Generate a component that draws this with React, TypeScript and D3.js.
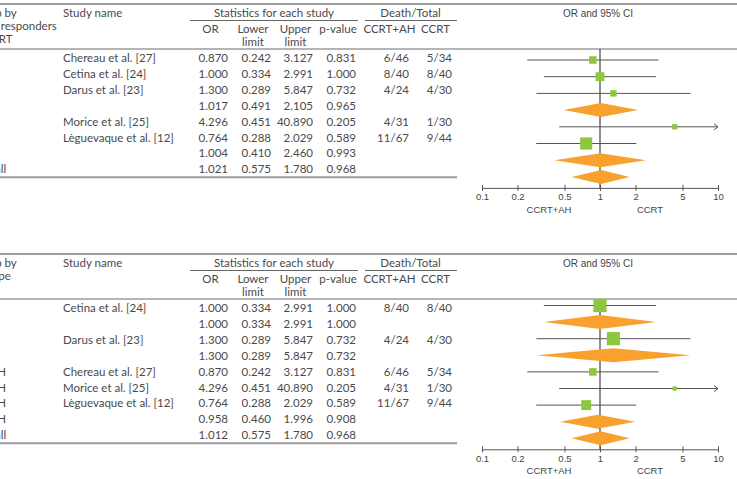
import React, { useEffect, useRef } from "react";
import * as d3 from "d3";

// odds ratio axis
const axisTicks = [0.1, 0.2, 0.5, 1, 2, 5, 10];
const axisTickLabels = ["0.1", "0.2", "0.5", "1", "2", "5", "10"];
const favourLabels = ["CCRT+AH", "CCRT"];

// table header
const statHeader = "Statistics for each study";
const deathHeader = "Death/Total";
const colHeaders = ["OR", "Lower", "Upper", "p-value", "CCRT+AH", "CCRT"];
const colSubHeaders = ["", "limit", "limit", "", "", ""];
const plotHeader = "OR and 95% CI";

// panel 1: grouped by response to CCRT
const respHeader = ["Group by", "Good responders", "to CCRT"];
const respGroups = ["No", "No", "No", "No", "Yes", "Yes", "Yes", "Overall"];
const respStudies = ["Chereau et al. [27]", "Cetina et al. [24]", "Darus et al. [23]", "", "Morice et al. [25]", "Lèguevaque et al. [12]", "", ""];
const respKind = ["study", "study", "study", "summary", "study", "study", "summary", "summary"];
const respOR = [0.87, 1.0, 1.3, 1.017, 4.296, 0.764, 1.004, 1.021];
const respLower = [0.242, 0.334, 0.289, 0.491, 0.451, 0.288, 0.41, 0.575];
const respUpper = [3.127, 2.991, 5.847, 2.105, 40.89, 2.029, 2.46, 1.78];
const respP = [0.831, 1.0, 0.732, 0.965, 0.205, 0.589, 0.993, 0.968];
const respDeathAH = ["6/46", "8/40", "4/24", "", "4/31", "11/67", "", ""];
const respDeathCCRT = ["5/34", "8/40", "4/30", "", "1/30", "9/44", "", ""];

// panel 2: grouped by hysterectomy type
const typeHeader = ["Group by", "HT type", ""];
const typeGroups = ["EFH", "EFH", "SH", "SH", "Total H", "Total H", "Total H", "Total H", "Overall"];
const typeStudies = ["Cetina et al. [24]", "", "Darus et al. [23]", "", "Chereau et al. [27]", "Morice et al. [25]", "Lèguevaque et al. [12]", "", ""];
const typeKind = ["study", "summary", "study", "summary", "study", "study", "study", "summary", "summary"];
const typeOR = [1.0, 1.0, 1.3, 1.3, 0.87, 4.296, 0.764, 0.958, 1.012];
const typeLower = [0.334, 0.334, 0.289, 0.289, 0.242, 0.451, 0.288, 0.46, 0.575];
const typeUpper = [2.991, 2.991, 5.847, 5.847, 3.127, 40.89, 2.029, 1.996, 1.78];
const typeP = [1.0, 1.0, 0.732, 0.732, 0.831, 0.205, 0.589, 0.908, 0.968];
const typeDeathAH = ["8/40", "", "4/24", "", "6/46", "4/31", "11/67", "", ""];
const typeDeathCCRT = ["8/40", "", "4/30", "", "5/34", "1/30", "9/44", "", ""];

type Row = {
  group: string;
  study: string;
  kind: string;
  or: number;
  lower: number;
  upper: number;
  p: number;
  ah: string;
  ccrt: string;
  share: number;
};

function buildRows(groups, studies, kind, or, lower, upper, p, ah, ccrt): Row[] {
  // inverse-variance weight from the CI width on the log scale
  const w = lower.map((l, i) => {
    const se = (Math.log(upper[i]) - Math.log(l)) / (2 * 1.96);
    return 1 / (se * se);
  });
  const totals = d3.rollup(
    groups.map((g, i) => ({ g, i })).filter((d) => kind[d.i] === "study"),
    (v) => d3.sum(v, (d) => w[d.i]),
    (d) => d.g
  );
  return groups.map((g, i) => ({
    group: g,
    study: studies[i],
    kind: kind[i],
    or: or[i],
    lower: lower[i],
    upper: upper[i],
    p: p[i],
    ah: ah[i],
    ccrt: ccrt[i],
    share: kind[i] === "study" ? w[i] / (totals.get(g) || 1) : 0,
  }));
}

const W = 737;
const H = 479;
const TEXT = "#4a4a4a";
const RULE = "#9c9c9c";
const SQUARE = "#8dc63f";
const DIAMOND = "#f9a12e";
const tableFont = "Lato, 'Noto Sans', sans-serif";
const plotFont = "'Liberation Sans', Arial, sans-serif";

const x = d3.scaleLog().domain([0.1, 10]).range([482, 718]);
const size = d3.scaleSqrt().domain([0, 1]).range([0, 13.2]);

// first column is wider than the page, so it starts left of the edge
const groupX = -30;
// right edges of the numeric columns and header centres
const colRight = [228, 271, 313, 356, 409, 452];
const colCenter = [210.5, 253, 295.5, 338, 389.5, 435.5];

function Axis({ y }: { y: number }) {
  const ref = useRef<SVGGElement>(null);
  useEffect(() => {
    const g = d3.select(ref.current);
    g.selectAll("*").remove();
    g.call(
      d3
        .axisBottom(x)
        .tickValues(axisTicks)
        .tickFormat((d, i) => axisTickLabels[i])
        .tickSizeInner(3)
        .tickSizeOuter(0)
        .tickPadding(2.5)
    );
    g.select(".domain").attr("stroke", "#555").attr("stroke-width", 1);
    g.selectAll(".tick line").attr("y1", -3).attr("y2", 3).attr("stroke", "#555");
    g.selectAll(".tick text")
      .attr("fill", "#444")
      .attr("font-size", 9.5)
      .attr("font-family", plotFont);
  }, [y]);
  return <g ref={ref} transform={`translate(0,${y})`} />;
}

function Panel({ top, header, rows, plotFirst, plotStep }) {
  const n = rows.length;
  const rowY = d3.scaleLinear().domain([0, n - 1]).range([top + 54, top + 54 + 15.9 * (n - 1)]);
  const plotY = d3.scaleLinear().domain([0, n - 1]).range([plotFirst, plotFirst + plotStep * (n - 1)]);
  const tableBottom = rowY(n - 1) + 8;
  const axisY = plotY(n - 1) + 11;
  const fmt = d3.format(".3f");

  return (
    <g>
      <line x1={0} x2={W} y1={top} y2={top} stroke={RULE} strokeWidth={2} />
      <line x1={0} x2={W} y1={top + 45} y2={top + 45} stroke={RULE} strokeWidth={1.5} />
      <line x1={0} x2={457} y1={tableBottom} y2={tableBottom} stroke={RULE} strokeWidth={2} />

      <g fontFamily={tableFont} fontSize={11.5} fill={TEXT}>
        {header.map((t, i) => (
          <text key={i} x={groupX} y={top + 13 + 13 * i}>{t}</text>
        ))}
        <text x={63} y={top + 13}>Study name</text>
        <text x={274} y={top + 13} textAnchor="middle">{statHeader}</text>
        <text x={410.5} y={top + 13} textAnchor="middle">{deathHeader}</text>
        <line x1={190} x2={358} y1={top + 16.5} y2={top + 16.5} stroke="#666" strokeWidth={1} />
        <line x1={365} x2={457} y1={top + 16.5} y2={top + 16.5} stroke="#666" strokeWidth={1} />
        {colHeaders.map((t, i) => (
          <text key={t} x={colCenter[i]} y={top + 28.5} textAnchor="middle">{t}</text>
        ))}
        {colSubHeaders.map((t, i) =>
          t ? (
            <text key={i} x={colCenter[i]} y={top + 42} textAnchor="middle">{t}</text>
          ) : null
        )}

        {rows.map((r, i) => {
          const y = rowY(i) + 4;
          const cells = [fmt(r.or), fmt(r.lower), fmt(r.upper), fmt(r.p), r.ah, r.ccrt];
          return (
            <g key={i}>
              <text x={groupX} y={y}>{r.group}</text>
              <text x={63} y={y}>{r.study}</text>
              {cells.map((c, j) => (
                <text key={j} x={colRight[j]} y={y} textAnchor="end">{c}</text>
              ))}
            </g>
          );
        })}
      </g>

      <text x={598} y={top + 13} textAnchor="middle" fontFamily={plotFont} fontSize={10} fill="#444">
        {plotHeader}
      </text>

      {/* line of no effect */}
      <line x1={x(1)} x2={x(1)} y1={top + 45} y2={axisY} stroke="#444" strokeWidth={1.2} />

      {rows.map((r, i) => {
        const y = plotY(i);
        if (r.kind === "summary") {
          const pts = [
            [x(r.lower), y],
            [x(r.or), y - 7],
            [x(r.upper), y],
            [x(r.or), y + 7],
          ];
          return <polygon key={i} points={pts.map((p) => p.join(",")).join(" ")} fill={DIAMOND} />;
        }
        const hi = Math.min(r.upper, x.domain()[1]);
        const s = size(r.share);
        return (
          <g key={i}>
            <line x1={x(r.lower)} x2={x(hi)} y1={y} y2={y} stroke="#555" strokeWidth={1} />
            {r.upper > hi && (
              <path
                d={`M${x(hi) - 4},${y - 3}L${x(hi)},${y}L${x(hi) - 4},${y + 3}`}
                fill="none"
                stroke="#555"
                strokeWidth={1}
              />
            )}
            <rect x={x(r.or) - s / 2} y={y - s / 2} width={s} height={s} fill={SQUARE} />
          </g>
        );
      })}

      <Axis y={axisY} />
      <g fontFamily={plotFont} fontSize={9.5} fill="#444" textAnchor="middle">
        <text x={x(1) - 51} y={axisY + 25}>{favourLabels[0]}</text>
        <text x={x(1) + 50} y={axisY + 25}>{favourLabels[1]}</text>
      </g>
    </g>
  );
}

export default function App() {
  const respRows = buildRows(respGroups, respStudies, respKind, respOR, respLower, respUpper, respP, respDeathAH, respDeathCCRT);
  const typeRows = buildRows(typeGroups, typeStudies, typeKind, typeOR, typeLower, typeUpper, typeP, typeDeathAH, typeDeathCCRT);
  return (
    <svg
      width={W}
      height={H}
      style={{ position: "absolute", left: 0, top: 0, background: "#fff" }}
    >
      <Panel top={4} header={respHeader} rows={respRows} plotFirst={60} plotStep={16.7} />
      <Panel top={254} header={typeHeader} rows={typeRows} plotFirst={305.5} plotStep={16.6} />
    </svg>
  );
}
